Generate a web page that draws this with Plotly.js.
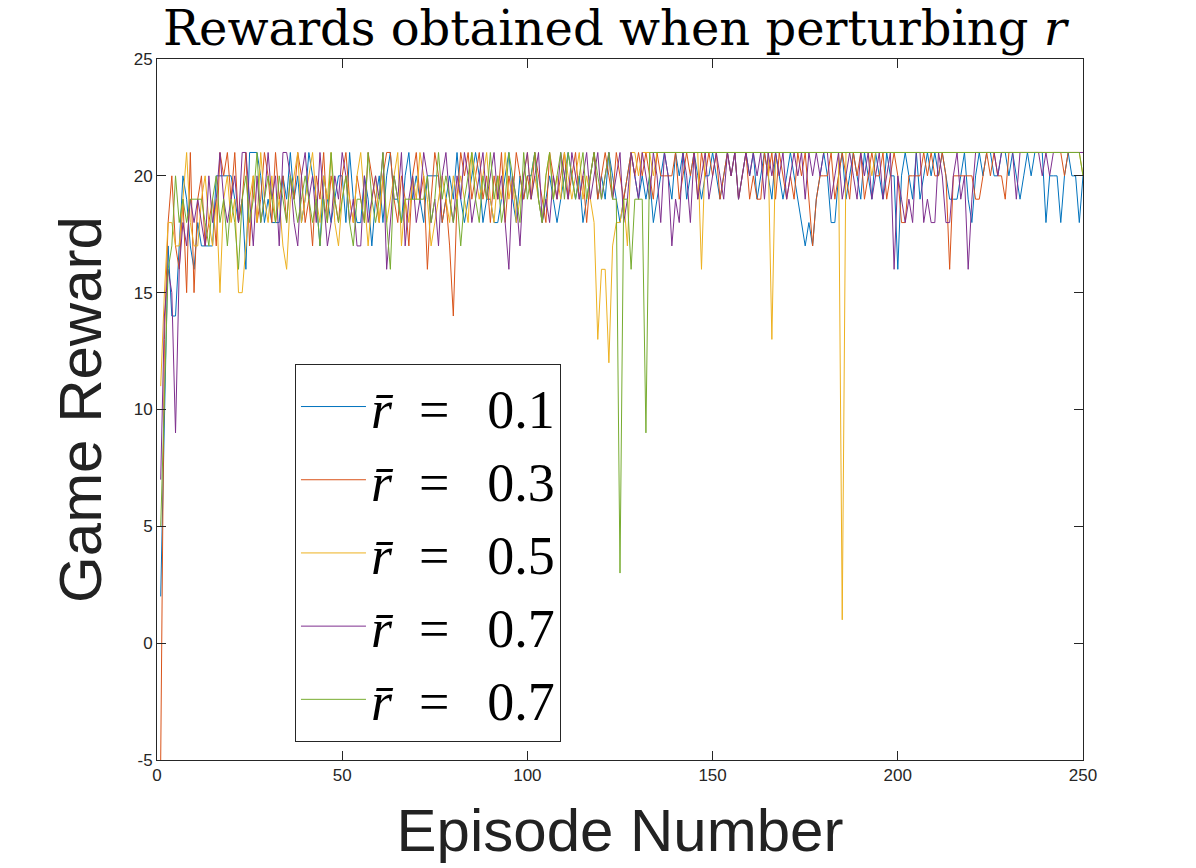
<!DOCTYPE html>
<html><head><meta charset="utf-8">
<script src="https://cdn.plot.ly/plotly-3.0.1.min.js"></script>
<style>html,body{margin:0;padding:0;background:#fff;}#chart{width:1196px;height:868px;}</style>
</head><body><div id="chart"></div>
<script>
// Legend labels (as shown in the reference)
const seriesLabels = ["0.1", "0.3", "0.5", "0.7", "0.7"];
const seriesColors = ["#0072BD", "#D95319", "#EDB120", "#7E2F8E", "#77AC30"];

// Game reward per episode (episodes 1..250)
const rewardR01 = [
  2,10,17,14,14,17,20,19,17,16,
  18,17,17,17,17,20,20,20,20,20,
  19,18,19,16,21,21,21,20,18,19,
  18,18,18,20,19,21,19,20,18,19,
  21,20,19,17,20,19,18,19,20,20,
  18,21,19,18,18,20,19,17,19,20,
  18,20,21,19,19,18,20,21,19,20,
  19,18,20,20,20,20,18,19,20,19,
  21,19,18,19,20,21,20,18,19,19,
  18,18,19,20,21,19,18,20,19,20,
  20,21,19,18,19,20,19,18,19,20,
  21,20,19,20,18,19,20,21,19,20,
  19,21,20,19,18,19,20,21,20,19,
  20,19,20,18,19,20,21,20,19,21,
  20,21,19,20,21,20,19,20,20,21,
  20,19,20,21,20,21,19,20,21,20,
  21,19,20,21,20,19,21,20,19,20,
  21,20,19,18,17,18,17,19,20,21,
  20,18,18,20,21,19,20,21,20,19,
  21,20,19,21,20,19,21,20,20,16,
  20,21,20,19,21,19,20,21,20,21,
  20,21,20,19,19,19,20,21,19,18,
  20,21,20,21,21,20,20,21,21,20,
  21,20,19,20,21,20,21,21,21,18,
  20,20,20,18,20,21,20,20,18,20
];
const rewardR03 = [
  -5,13,18,20,17,16,19,15,21,15,
  19,20,17,18,19,17,21,20,21,19,
  21,18,19,21,17,20,18,19,21,20,
  18,21,19,20,18,20,19,21,20,18,
  19,17,20,19,21,18,20,19,18,20,
  21,19,18,20,19,18,21,20,19,18,
  20,21,21,19,18,20,19,17,20,21,
  19,20,16,19,21,20,18,19,17,14,
  19,21,20,21,19,20,21,19,20,18,
  20,19,21,18,20,19,21,20,19,20,
  19,21,20,19,18,21,20,19,20,21,
  19,20,21,19,20,18,20,21,19,20,
  21,20,19,21,20,19,20,21,20,21,
  20,21,20,19,21,20,20,20,20,21,
  19,20,21,20,21,19,21,20,21,20,
  21,19,20,21,20,21,19,20,21,19,
  20,19,19,21,20,21,19,21,20,19,
  20,19,21,20,21,19,17,19,20,20,
  20,21,19,20,21,20,19,21,20,21,
  19,20,21,20,20,21,19,20,21,20,
  18,18,20,20,20,20,21,20,21,20,
  20,21,20,16,20,20,20,20,20,20,
  19,19,20,21,20,21,20,20,19,21,
  21,21,21,21,21,21,21,21,21,21,
  21,21,21,21,20,21,21,21,21,21
];
const rewardR05 = [
  11,15,18,18,17,17,19,21,18,17,
  17,19,20,18,17,19,15,19,20,18,
  19,15,15,17,19,20,18,21,19,18,
  20,18,19,17,16,19,20,21,18,19,
  20,21,19,18,20,19,21,18,17,19,
  20,19,18,20,21,19,17,19,20,18,
  20,18,19,20,21,17,19,18,20,19,
  21,20,19,17,18,19,20,19,18,20,
  19,20,19,18,21,20,19,20,21,19,
  18,20,19,21,19,20,18,19,20,21,
  19,20,19,18,20,21,19,20,19,21,
  20,19,20,21,19,20,19,18,13,16,
  16,12,17,18,18,19,17,21,21,20,
  21,21,21,20,21,21,21,21,21,21,
  21,21,21,21,21,21,16,21,21,21,
  21,21,21,21,21,21,21,21,21,21,
  21,21,21,21,21,13,21,21,21,21,
  21,21,21,21,21,21,21,21,21,21,
  21,21,21,21,1,21,21,21,21,21,
  21,21,20,21,21,21,21,21,21,21,
  21,21,21,21,21,21,21,21,21,21,
  21,21,21,21,21,21,21,21,21,21,
  21,21,21,21,21,21,21,21,21,21,
  21,21,21,21,21,21,21,21,21,21,
  21,21,21,21,21,21,21,21,21,20
];
const rewardR07a = [
  7,14,16,15,9,16,18,17,19,18,
  19,18,17,20,18,19,21,19,18,19,
  20,18,21,21,19,17,20,18,19,21,
  19,20,17,21,21,20,18,17,20,21,
  19,20,18,21,19,17,18,20,19,21,
  20,18,19,17,17,20,18,19,20,19,
  21,16,18,20,19,21,17,19,20,18,
  19,21,20,18,19,17,20,21,19,18,
  20,19,21,20,18,19,20,21,19,20,
  21,19,20,18,16,20,19,17,20,21,
  19,20,21,18,19,18,20,19,21,20,
  19,21,20,19,20,21,19,20,21,19,
  20,21,19,20,21,18,19,21,20,19,
  21,20,19,21,20,18,21,20,17,19,
  18,21,20,18,21,19,20,21,19,20,
  21,20,19,21,20,21,19,20,21,20,
  21,20,21,19,21,20,21,20,21,19,
  20,21,20,21,19,21,20,21,20,21,
  21,19,20,21,19,20,21,20,19,21,
  20,21,19,20,21,19,20,21,16,20,
  19,18,19,18,21,21,18,19,18,18,
  21,20,18,18,20,21,19,20,16,19,
  21,21,21,21,21,21,20,21,21,21,
  21,19,21,21,21,21,21,21,20,21,
  20,21,21,21,21,21,21,21,21,21
];
const rewardR07b = [
  5,11,16,17,20,18,19,18,19,19,
  19,19,18,17,19,20,18,19,17,19,
  18,16,19,20,18,19,21,18,19,20,
  19,18,20,19,18,20,19,18,19,20,
  19,18,19,17,19,18,21,19,18,19,
  20,18,17,19,19,18,21,19,18,19,
  21,18,16,20,19,18,19,19,19,19,
  19,19,20,18,19,21,19,20,19,18,
  19,17,19,20,21,19,18,20,19,21,
  19,20,18,19,21,20,19,18,21,19,
  20,21,19,18,20,21,19,20,21,19,
  21,20,19,20,21,19,20,21,20,19,
  20,21,19,19,3,19,19,16,19,19,
  19,9,21,21,21,21,21,21,21,21,
  21,21,21,21,21,21,21,21,21,21,
  21,21,21,21,21,21,21,21,21,21,
  21,21,21,21,21,21,21,21,21,21,
  21,21,21,21,21,21,21,21,21,21,
  21,21,21,21,21,21,21,21,21,21,
  21,21,21,21,21,21,21,21,21,21,
  21,21,21,21,21,21,21,21,21,21,
  21,21,21,21,21,21,21,21,21,21,
  21,21,21,21,21,21,21,21,21,21,
  21,21,21,21,21,21,21,21,21,21,
  21,21,21,21,21,21,21,21,21,20
];

const xTickVals = [0, 50, 100, 150, 200, 250];
const yTickVals = [-5, 0, 5, 10, 15, 20, 25];

const allSeries = [rewardR01, rewardR03, rewardR05, rewardR07a, rewardR07b];
const traces = allSeries.map((vals, i) => ({
  type: "scatter",
  mode: "lines",
  x: vals.map((_, k) => k + 1),
  y: vals,
  name: "<i>r\u0304</i>\u2002=\u2002\u2009" + seriesLabels[i],
  legendgroup: "g" + i,
  line: { color: seriesColors[i], width: 1 },
  hoverinfo: "skip"
}));

const axisCol = "#262626";
const layout = {
  width: 1196, height: 868,
  paper_bgcolor: "#ffffff", plot_bgcolor: "#ffffff",
  margin: { l: 157, r: 113, t: 59, b: 108, pad: 0 },
  showlegend: true,
  title: {
    text: "Rewards obtained when perturbing <i>r</i>",
    font: { family: "DejaVu Serif", size: 48, color: "#000" },
    x: 0.514, xanchor: "center",
    y: 0.948, yanchor: "bottom", yref: "container"
  },
  xaxis: {
    range: [0, 250], tickvals: xTickVals, ticktext: xTickVals.map(String),
    ticks: "inside", ticklen: 9, tickwidth: 1, tickcolor: axisCol,
    showline: true, linecolor: axisCol, linewidth: 1, mirror: "ticks",
    showgrid: false, zeroline: false,
    tickfont: { family: "Liberation Sans", size: 17, color: axisCol },
    title: { text: "Episode Number", font: { family: "Liberation Sans", size: 60, color: "#222" }, standoff: 24 }
  },
  yaxis: {
    range: [-5, 25], tickvals: yTickVals, ticktext: yTickVals.map(String),
    ticks: "inside", ticklen: 9, tickwidth: 1, tickcolor: axisCol,
    showline: true, linecolor: axisCol, linewidth: 1, mirror: "ticks",
    showgrid: false, zeroline: false,
    tickfont: { family: "Liberation Sans", size: 17, color: axisCol },
    title: { text: "Game Reward", font: { family: "Liberation Sans", size: 60, color: "#222" }, standoff: 12 }
  },
  legend: {
    x: 0.149, y: 0.565, xanchor: "left", yanchor: "top",
    bgcolor: "#ffffff", bordercolor: axisCol, borderwidth: 1,
    font: { family: "Liberation Serif", size: 54, color: "#000" },
    tracegroupgap: 0, itemwidth: 65
  }
};

Plotly.newPlot("chart", traces, layout, { staticPlot: true, displayModeBar: false });
</script></body></html>
